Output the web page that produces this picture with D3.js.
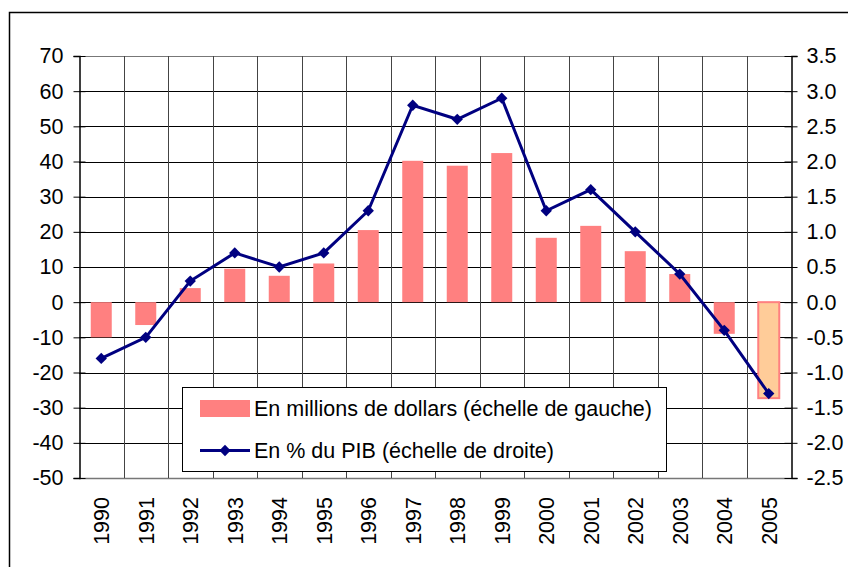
<!DOCTYPE html>
<html>
<head>
<meta charset="utf-8">
<script src="https://cdn.jsdelivr.net/npm/d3@7"></script>
<style>
  body { margin: 0; background: #fff; }
  svg { display: block; }
  text { font-family: "Liberation Sans", Arial, sans-serif; fill: #000; }
</style>
</head>
<body>
<svg id="chart" width="848" height="567"></svg>
<script>
// data
const years = ["1990", "1991", "1992", "1993", "1994", "1995", "1996", "1997",
               "1998", "1999", "2000", "2001", "2002", "2003", "2004", "2005"];
const millions = [-10, -6.5, 4, 9.5, 7.5, 11, 20.5, 40.2, 38.8, 42.4, 18.3, 21.7, 14.5, 8, -9, -27.3];
const pctPIB = [-0.8, -0.5, 0.3, 0.7, 0.5, 0.7, 1.3, 2.8, 2.6, 2.9, 1.3, 1.6, 1.0, 0.4, -0.4, -1.3];
const leftTicks = [70, 60, 50, 40, 30, 20, 10, 0, -10, -20, -30, -40, -50];
const rightTicks = [3.5, 3.0, 2.5, 2.0, 1.5, 1.0, 0.5, 0.0, -0.5, -1.0, -1.5, -2.0, -2.5];
const legendLabels = ["En millions de dollars (échelle de gauche)", "En % du PIB (échelle de droite)"];

const svg = d3.select("#chart");
const plot = {left: 79, right: 791, top: 56, bottom: 478};
const fs = 21.5;

// outer frame (only top and left edges show in the picture)
svg.append("path")
    .attr("d", "M9.5,567 L9.5,12.5 L848,12.5")
    .attr("fill", "none")
    .attr("stroke", "#000")
    .attr("stroke-width", 1.5);

const x = d3.scaleBand()
    .domain(years)
    .range([plot.left, plot.right]);

const yL = d3.scaleLinear().domain([-50, 70]).range([plot.bottom, plot.top]);
const yR = d3.scaleLinear().domain([-2.5, 3.5]).range([plot.bottom, plot.top]);

// plain hyphen for negatives, like the original
const fmtL = d => String(d);
const fmtR = d => d.toFixed(1);

// horizontal grid
svg.append("g")
    .selectAll("line")
    .data(leftTicks)
    .join("line")
    .attr("x1", plot.left).attr("x2", plot.right)
    .attr("y1", d => Math.round(yL(d)) + 0.5)
    .attr("y2", d => Math.round(yL(d)) + 0.5)
    .attr("stroke", d => (d === 70 || d === -50) ? "#777" : "#000")
    .attr("stroke-width", d => d === -50 ? 1.5 : 1);

// vertical grid at category boundaries
svg.append("g")
    .selectAll("line")
    .data(years.slice(1))
    .join("line")
    .attr("x1", d => Math.round(x(d)) + 0.5)
    .attr("x2", d => Math.round(x(d)) + 0.5)
    .attr("y1", plot.top).attr("y2", plot.bottom)
    .attr("stroke", "#444");

// bars
const barW = 21;
svg.append("g")
    .selectAll("rect")
    .data(millions)
    .join("rect")
    .attr("x", (d, i) => x(years[i]) + x.bandwidth() / 2 - barW / 2)
    .attr("y", d => yL(Math.max(0, d)))
    .attr("width", barW)
    .attr("height", d => Math.abs(yL(d) - yL(0)))
    .attr("fill", (d, i) => i === years.length - 1 ? "#FFCC99" : "#FF8080")
    .attr("stroke", (d, i) => i === years.length - 1 ? "#FF8080" : "none")
    .attr("stroke-width", 2);

// left axis
const gL = svg.append("g")
    .attr("transform", `translate(${plot.left + 0.5},0)`)
    .call(d3.axisLeft(yL).tickValues(leftTicks).tickSize(6).tickFormat(fmtL));
gL.attr("font-family", null).attr("font-size", null);
gL.select(".domain").attr("stroke", "#000").attr("stroke-width", 1.5);
gL.selectAll(".tick line").attr("x2", -6).attr("x1", 6).attr("stroke", "#000");
gL.selectAll(".tick text").attr("x", -16).attr("font-size", fs);

// right axis
const gR = svg.append("g")
    .attr("transform", `translate(${plot.right + 0.5},0)`)
    .call(d3.axisRight(yR).tickValues(rightTicks).tickSize(6).tickFormat(fmtR));
gR.attr("font-family", null).attr("font-size", null);
gR.select(".domain").attr("stroke", "#000").attr("stroke-width", 1.5);
gR.selectAll(".tick line").attr("x1", -7).attr("x2", 6).attr("stroke", "#000");
gR.selectAll(".tick text").attr("x", 15).attr("font-size", fs);

// year labels, rotated
svg.append("g")
    .selectAll("text")
    .data(years)
    .join("text")
    .attr("transform", d => `translate(${x(d) + x.bandwidth() / 2},${plot.bottom + 19}) rotate(-90)`)
    .attr("text-anchor", "end")
    .attr("dy", "0.36em")
    .attr("font-size", fs)
    .text(d => d);

// line series
const line = d3.line()
    .x((d, i) => x(years[i]) + x.bandwidth() / 2)
    .y(d => yR(d));

svg.append("path")
    .datum(pctPIB)
    .attr("d", line)
    .attr("fill", "none")
    .attr("stroke", "#000080")
    .attr("stroke-width", 3);

svg.append("g")
    .selectAll("path")
    .data(pctPIB)
    .join("path")
    .attr("transform", (d, i) => `translate(${x(years[i]) + x.bandwidth() / 2},${yR(d)}) rotate(45)`)
    .attr("d", d3.symbol().type(d3.symbolSquare).size(64))
    .attr("fill", "#000080");

// legend
const lg = svg.append("g");
lg.append("rect")
    .attr("x", 182.5).attr("y", 387.5)
    .attr("width", 484).attr("height", 84)
    .attr("fill", "#fff")
    .attr("stroke", "#000");
lg.append("rect")
    .attr("x", 200).attr("y", 400)
    .attr("width", 50).attr("height", 17)
    .attr("fill", "#FF8080");
lg.append("line")
    .attr("x1", 200).attr("x2", 250)
    .attr("y1", 450.5).attr("y2", 450.5)
    .attr("stroke", "#000080").attr("stroke-width", 3);
lg.append("path")
    .attr("transform", "translate(225,450.5) rotate(45)")
    .attr("d", d3.symbol().type(d3.symbolSquare).size(64))
    .attr("fill", "#000080");
lg.selectAll("text.leg")
    .data(legendLabels)
    .join("text")
    .attr("class", "leg")
    .attr("x", 254)
    .attr("y", (d, i) => 416 + i * 42)
    .attr("font-size", fs)
    .text(d => d);
</script>
</body>
</html>
